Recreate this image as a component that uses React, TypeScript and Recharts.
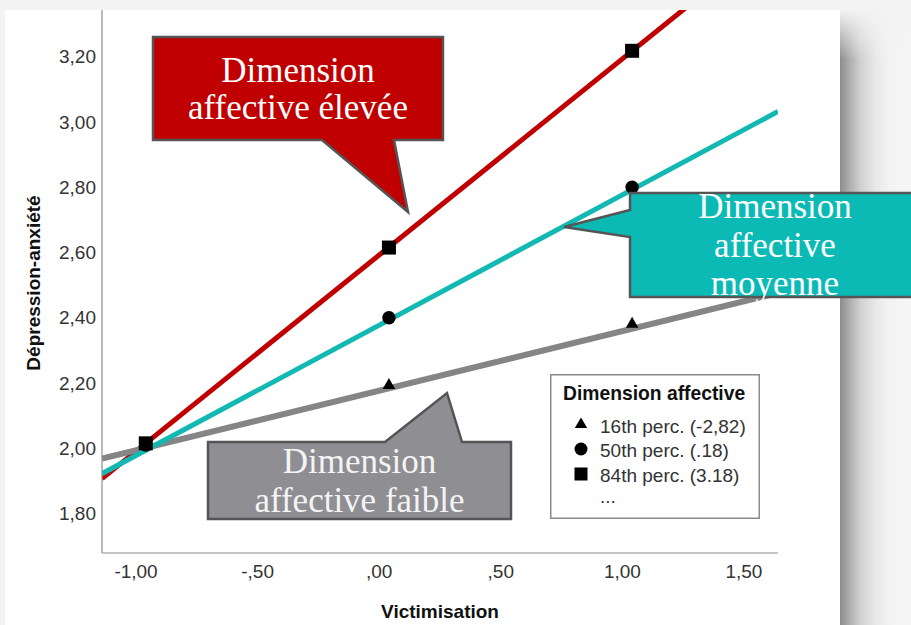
import React from "react";
import {
  ComposedChart,
  Line,
  Scatter,
  XAxis,
  YAxis,
  Legend,
} from "recharts";

// ---- data ----
const victimisation = [-0.96, 0.04, 1.04];
const lowValues = [2.01, 2.195, 2.383]; // 16th perc.
const midValues = [2.01, 2.4, 2.8]; // 50th perc.
const highValues = [2.015, 2.615, 3.218]; // 84th perc.

// fitted (hand-drawn) lines: end points
const fitX = [-1.14, 1.64];
const fitLow = [1.968, 2.476];
const fitMid = [1.922, 3.032];
const fitHigh = [1.907, 3.578];

const xTicks = [-1, -0.5, 0, 0.5, 1, 1.5];
const xTickLabels = ["-1,00", "-,50", ",00", ",50", "1,00", "1,50"];
const yTicks = [1.8, 2.0, 2.2, 2.4, 2.6, 2.8, 3.0, 3.2];
const yTickLabels = ["1,80", "2,00", "2,20", "2,40", "2,60", "2,80", "3,00", "3,20"];

const legendTitle = "Dimension affective";
const legendLabels = ["16th perc. (-2,82)", "50th perc. (.18)", "84th perc. (3.18)", "..."];

const xTitle = "Victimisation";
const yTitle = "Dépression-anxiété";

const calloutHigh = ["Dimension", "affective élevée"];
const calloutMid = ["Dimension", "affective", "moyenne"];
const calloutLow = ["Dimension", "affective faible"];

// ---- build tables ----
const toPoints = (ys: number[]) => victimisation.map((x, i) => ({ x, y: ys[i] }));
const toFit = (ys: number[]) => fitX.map((x, i) => ({ x, y: ys[i] }));

const lowPts = toPoints(lowValues);
const midPts = toPoints(midValues);
const highPts = toPoints(highValues);

const fmt = (ticks: number[], labels: string[]) => (v: number) => {
  const i = ticks.findIndex((t) => Math.abs(t - v) < 1e-6);
  return i >= 0 ? labels[i] : String(v);
};

const SANS = "'Liberation Sans', Arial, Helvetica, sans-serif";
const SERIF = "'Liberation Serif', 'Times New Roman', serif";

const Tri = (p: any) => {
  const { cx, cy } = p;
  const w = 12.5;
  const h = 11;
  return (
    <path
      d={`M${cx},${cy - h * 0.6} L${cx + w / 2},${cy + h * 0.4} L${cx - w / 2},${cy + h * 0.4} Z`}
      fill="#000"
    />
  );
};
const Dot = (p: any) => <circle cx={p.cx} cy={p.cy} r={6.7} fill="#000" />;
const Sq = (p: any) => <rect x={p.cx - 7} y={p.cy - 7} width={14} height={14} fill="#000" />;

const LegendBox = () => (
  <svg width={210} height={145} style={{ display: "block" }}>
    <rect x={0.75} y={0.75} width={208.5} height={143.5} fill="#fff" stroke="#8a8a8a" strokeWidth={1.5} />
    <text x={13} y={26} fontFamily={SANS} fontSize={19.3} fontWeight="bold" fill="#111">
      {legendTitle}
    </text>
    <path d="M31,43.5 L37.2,54 L24.8,54 Z" fill="#000" />
    <circle cx={31} cy={75} r={6.5} fill="#000" />
    <rect x={24.5} y={93.5} width={13} height={13} fill="#000" />
    {legendLabels.map((l, i) => (
      <text
        key={l}
        x={50}
        y={[59, 83, 108, 129][i]}
        fontFamily={SANS}
        fontSize={19}
        fill="#333"
      >
        {l}
      </text>
    ))}
  </svg>
);

export default function App() {
  return (
    <div
      style={{
        position: "absolute",
        left: 0,
        top: 0,
        width: 911,
        height: 625,
        overflow: "hidden",
        background: "#f3f3f3",
        fontFamily: SANS,
      }}
    >
      {/* white panel */}
      <div style={{ position: "absolute", left: 5, top: 10, width: 835, height: 615, background: "#fff" }} />
      {/* right shadow */}
      <div
        style={{
          position: "absolute",
          left: 840,
          top: 10,
          width: 71,
          height: 615,
          background:
            "linear-gradient(to right, #8c8c8c 0px, #a8a8a8 8px, #cfcfcf 20px, #e8e8e8 35px, #f3f3f3 50px, #f6f6f6 71px)",
        }}
      />
      <div
        style={{
          position: "absolute",
          left: 840,
          top: 10,
          width: 71,
          height: 50,
          background: "linear-gradient(to bottom, #f3f3f3 0px, rgba(243,243,243,0) 50px)",
        }}
      />
      <div style={{ position: "absolute", left: 0, top: 0 }}>
        <ComposedChart width={911} height={625} margin={{ top: 10, right: 133, bottom: 0, left: 0 }}>
          <XAxis
            type="number"
            dataKey="x"
            domain={[-1.14, 1.64]}
            allowDataOverflow
            ticks={xTicks}
            tickFormatter={fmt(xTicks, xTickLabels)}
            height={72}
            tickLine={false}
            tickSize={10}
            tickMargin={2}
            axisLine={{ stroke: "#8c8c8c", strokeWidth: 1.2 }}
            tick={{ fill: "#333", fontSize: 19, fontFamily: SANS }}
          />
          <YAxis
            type="number"
            dataKey="y"
            domain={[1.679, 3.343]}
            allowDataOverflow
            ticks={yTicks}
            tickFormatter={fmt(yTicks, yTickLabels)}
            width={102}
            tickLine={false}
            tickSize={6}
            tickMargin={0}
            axisLine={{ stroke: "#8c8c8c", strokeWidth: 1.2 }}
            tick={{ fill: "#333", fontSize: 19, fontFamily: SANS }}
          />
          <Scatter name={legendLabels[0]} data={lowPts} shape={Tri} isAnimationActive={false} />
          <Scatter name={legendLabels[1]} data={midPts} shape={Dot} isAnimationActive={false} />
          <Scatter name={legendLabels[2]} data={highPts} shape={Sq} isAnimationActive={false} />
          <Line data={toFit(fitHigh)} dataKey="y" type="linear" stroke="#C00000" strokeWidth={5} dot={false} isAnimationActive={false} legendType="none" />
          <Line data={toFit(fitLow)} dataKey="y" type="linear" stroke="#858585" strokeWidth={6} dot={false} isAnimationActive={false} legendType="none" />
          <Line data={toFit(fitMid)} dataKey="y" type="linear" stroke="#12B9B2" strokeWidth={5} dot={false} isAnimationActive={false} legendType="none" />
          <Legend
            layout="vertical"
            align="center"
            verticalAlign="middle"
            content={() => <LegendBox />}
            wrapperStyle={{ position: "absolute", left: 550, top: 374, width: 210, height: 145 }}
          />
        </ComposedChart>
      </div>
      {/* annotations overlay */}
      <svg
        width={911}
        height={625}
        style={{ position: "absolute", left: 0, top: 0, pointerEvents: "none" }}
      >
        <text x={440} y={618} textAnchor="middle" fontFamily={SANS} fontSize={19} fontWeight="bold" fill="#111">
          {xTitle}
        </text>
        <text
          transform="translate(40,283) rotate(-90)"
          textAnchor="middle"
          fontFamily={SANS}
          fontSize={19}
          fontWeight="bold"
          fill="#111"
        >
          {yTitle}
        </text>

        {/* high */}
        <path d="M153,37 H443 V140 H394 L408,212 L322,140 H153 Z" fill="#C00000" stroke="#555" strokeWidth={2.5} strokeLinejoin="miter" />
        {calloutHigh.map((t, i) => (
          <text key={t} x={298} y={[82, 119][i]} textAnchor="middle" fontFamily={SERIF} fontSize={35} fill="#fff">
            {t}
          </text>
        ))}

        {/* mid */}
        <path d="M630,193 H930 V297 H630 V237 L564,227 L630,210 Z" fill="#0BBAB5" stroke="#555" strokeWidth={2.5} />
        {calloutMid.map((t, i) => (
          <text key={t} x={775} y={[218, 257, 295][i]} textAnchor="middle" fontFamily={SERIF} fontSize={35} fill="#fff">
            {t}
          </text>
        ))}

        {/* low */}
        <path d="M208,442 H385 L447,393 L462,442 H511 V519 H208 Z" fill="#8E8E93" stroke="#555" strokeWidth={2.5} />
        {calloutLow.map((t, i) => (
          <text key={t} x={359.5} y={[473, 512][i]} textAnchor="middle" fontFamily={SERIF} fontSize={35} fill="#f4f4f4">
            {t}
          </text>
        ))}
      </svg>
    </div>
  );
}
